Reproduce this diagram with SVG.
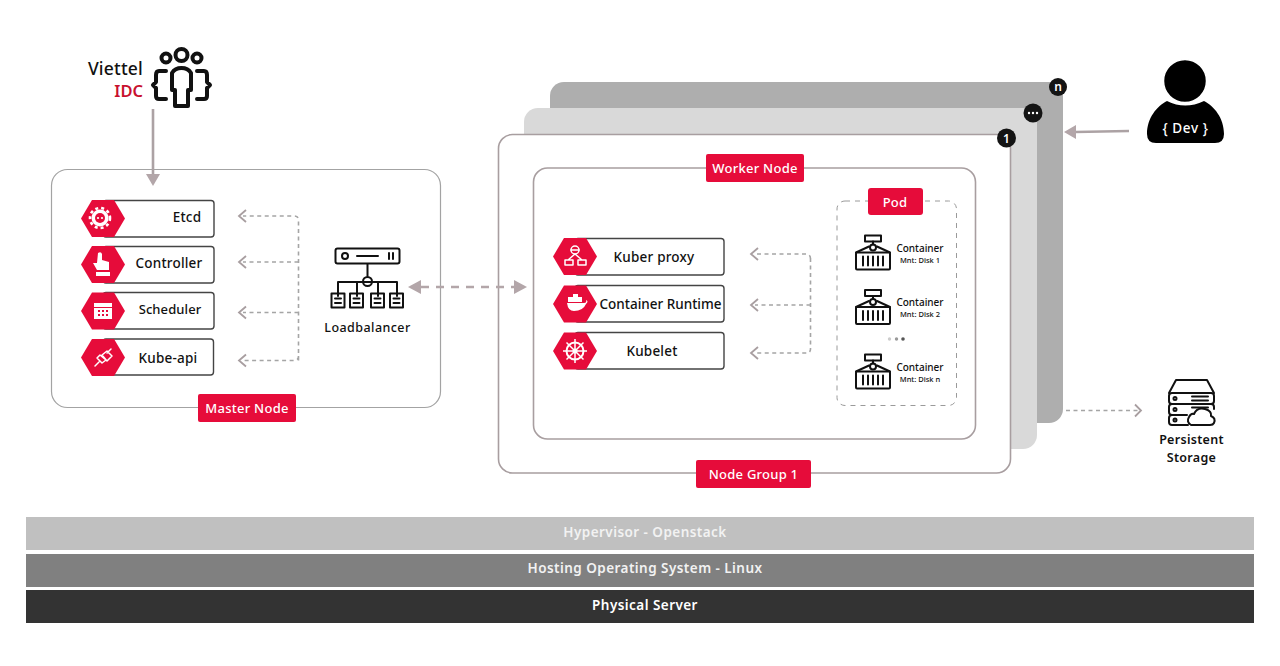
<svg xmlns="http://www.w3.org/2000/svg" width="1280" height="666" viewBox="0 0 1280 666">
<style>
text{font-family:"Noto Sans","Liberation Sans",sans-serif;font-weight:600;fill:#111;text-anchor:middle}
.row{fill:#fff;stroke:#444;stroke-width:1.4}
.hex{fill:#e60c3a}
.tag{fill:#e60c3a}
.tagt{fill:#fff;font-size:13px;font-weight:500;letter-spacing:.25px}
.rowt{font-size:13.5px;font-weight:500;letter-spacing:.2px}
.dash{fill:none;stroke:#a5a5a5;stroke-width:1.6;stroke-dasharray:4 3.5}
.open{fill:none;stroke:#a89ea0;stroke-width:1.8}
.solid{fill:none;stroke:#aca2a4;stroke-width:2.6}
.head{fill:#b3a6a9}
.ic{fill:none;stroke:#111;stroke-width:2;stroke-linejoin:round;stroke-linecap:round}
.wic{fill:none;stroke:#fff;stroke-width:1.5;stroke-linecap:round;stroke-linejoin:round}
.wf{fill:#fff}
.barT{fill:#f2f2f2;font-size:13.5px;letter-spacing:.45px}
.ct{font-size:10px;font-weight:500}
.cs{font-size:7.5px;font-weight:500}
.badge{fill:#141414}
.badget{fill:#fff;font-size:12px;font-weight:600}
</style>
<defs>
<polygon id="hexs" class="hex" points="-22,0 -11,-18.5 11,-18.5 22,0 11,18.5 -11,18.5"/>
<g id="crate">
<rect class="ic" x="10" y="0" width="16" height="6"/>
<path class="ic" d="M18 6V9M1 17L14 11M35 17L22 11"/>
<circle class="ic" cx="18" cy="12" r="3"/>
<rect class="ic" x="1" y="17" width="34" height="17" rx="1"/>
<path class="ic" d="M8 21V30M13 21V30M18 21V30M23 21V30M28 21V30" stroke-width="1.600"/>
</g>
</defs>

<rect width="1280" height="666" fill="#fff"/>

<g id="stack-n"><rect x="550" y="82" width="513" height="341" rx="14" fill="#aeaeae"/></g>
<g id="stack-dots"><rect x="524" y="108" width="513" height="341" rx="14" fill="#d9d9d9"/></g>

<g id="master-node">
<rect x="51.500" y="169.500" width="389" height="238" rx="16" fill="#fff" stroke="#a3a3a3" stroke-width="1.200"/>
<rect class="tag" x="198" y="394" width="98" height="28" rx="2"/>
<text class="tagt" x="247" y="412.500">Master Node</text>
</g>

<g id="node-group-1">
<rect x="498.500" y="134.500" width="512" height="338.500" rx="14" fill="#fff" stroke="#a89ea0" stroke-width="1.600"/>
<rect class="tag" x="696" y="460" width="115" height="28" rx="2"/>
<text class="tagt" x="753.500" y="479">Node Group 1</text>
</g>

<g id="worker-node">
<rect x="533.500" y="168" width="442" height="271" rx="14" fill="#fff" stroke="#a89ea0" stroke-width="1.600"/>
<rect class="tag" x="706" y="154" width="98" height="28" rx="2"/>
<text class="tagt" x="755" y="173">Worker Node</text>
</g>

<g id="connectors">
<path class="dash" d="M298.500 360.500V220Q298.500 216 294 216H243M298.500 262H243M298.500 312.500H243M298.500 356Q298.500 360.500 294 360.500H243"/>
<path class="open" d="M246 210L239 216L246 222M246 256L239 262L246 268M246 306.500L239 312.500L246 318.500M246 354.500L239 360.500L246 366.500"/>
<path class="dash" d="M810.500 258V349Q810.500 353 806 353H755M810.500 305H755M810.500 259Q810.500 254 806 254H755"/>
<path class="open" d="M758 248L751 254L758 260M758 299L751 305L758 311M758 347L751 353L758 359"/>
<path d="M421 287H514" fill="none" stroke="#b3a6a9" stroke-width="2.600" stroke-dasharray="8 7"/>
<polygon class="head" points="408,287 421,280 421,294"/>
<polygon class="head" points="527,287 514,280 514,294"/>
<path class="solid" d="M153 109V175"/>
<polygon class="head" points="153,186 146,174 160,174"/>
<path class="solid" d="M1129 131L1075 132"/>
<polygon class="head" points="1064,132 1076,125 1076,139"/>
<path class="dash" d="M1066 410.500H1138"/>
<path class="open" d="M1135 404.500L1141 410.500L1135 416.500"/>
</g>

<g id="viettel-idc">
<text x="143" y="74.500" style="text-anchor:end;font-size:17.500px;font-weight:500;letter-spacing:.2px">Viettel</text>
<text x="143" y="97" style="text-anchor:end;font-size:16.500px;fill:#c8102e">IDC</text>
<g fill="none" stroke="#111" stroke-width="4" stroke-linejoin="round" stroke-linecap="round">
<circle cx="166" cy="58" r="4.500"/><circle cx="181.500" cy="55" r="6"/><circle cx="197" cy="58" r="4.500"/>
<path d="M172 73Q175 68 181.500 68Q188 68 191 73V90H188V106H175V90H172Z"/>
<path d="M166 71H159Q156 71 156 75V82L153 85L156 88V96Q156 99 159 99H166M197 71H204Q207 71 207 75V82L210 85L207 88V96Q207 99 204 99H197"/>
</g>
</g>

<g id="etcd">
<rect class="row" x="103" y="200.500" width="111" height="36.500" rx="3"/>
<use href="#hexs" x="103" y="218.500"/>
<text class="rowt" x="187" y="221.500">Etcd</text>
<circle cx="100" cy="218" r="8.500" class="wf"/><circle cx="100" cy="218" r="10" fill="none" stroke="#fff" stroke-width="2.600" stroke-dasharray="3 3"/>
<circle cx="100" cy="218" r="5" fill="#e60c3a"/>
<circle cx="98" cy="218" r="1.100" fill="#fff"/><circle cx="102" cy="218" r="1.100" fill="#fff"/>
</g>
<g id="controller">
<rect class="row" x="103" y="246.500" width="111" height="36.500" rx="3"/>
<use href="#hexs" x="103" y="264.500"/>
<text class="rowt" x="169" y="267.500">Controller</text>
<path class="wf" d="M98 253Q101 251 102 254V260L109 262V270H97L93 263L97 263ZM96 272H110V276H96Z"/>
</g>
<g id="scheduler">
<rect class="row" x="103" y="292.500" width="111" height="36.500" rx="3"/>
<use href="#hexs" x="103" y="311"/>
<text class="rowt" x="170" y="313.500" style="font-size:13px;letter-spacing:.1px">Scheduler</text>
<path class="wf" d="M94 303H112V319H94Z"/>
<path d="M94 307.500H112" stroke="#e60c3a" stroke-width="1"/>
<path d="M98 311H100M102 311H104M106 311H108M98 315H100M102 315H104M106 315H108" stroke="#e60c3a" stroke-width="1.800"/>
</g>
<g id="kube-api">
<rect class="row" x="103" y="339" width="110.500" height="36" rx="3"/>
<use href="#hexs" x="103" y="357.500"/>
<text class="rowt" x="168" y="363">Kube-api</text>
<path class="wic" d="M95 366L99 362M107 353L111 349M97 358L102 363L106 360L100 355ZM102 355L107 351L112 356L107 361Z"/>
</g>

<g id="loadbalancer">
<rect class="ic" x="335.500" y="248.500" width="64" height="15" rx="2"/>
<circle class="ic" cx="345" cy="256" r="3"/>
<path class="ic" d="M357 256H378M389 253V259M393 253V259M367.500 264V276M338 296V282H397V296M357 296V282M378 296V282"/>
<circle class="ic" cx="367.500" cy="281.500" r="4.500" fill="#fff"/>
<path class="ic" d="M331.500 293.500h13v14h-13zM350 293.500h13v14h-13zM371 293.500h13v14h-13zM390 293.500h13v14h-13zM335 298.500h6M335 303h6M353.500 298.500h6M353.500 303h6M374.500 298.500h6M374.500 303h6M393.500 298.500h6M393.500 303h6" stroke-width="1.700"/>
<text x="367.500" y="332" style="font-size:12.500px;font-weight:500;letter-spacing:.45px">Loadbalancer</text>
</g>

<g id="kuber-proxy">
<rect class="row" x="575" y="238.500" width="149" height="36.500" rx="3"/>
<use href="#hexs" x="575" y="256.500"/>
<text class="rowt" x="654" y="261.500">Kuber proxy</text>
<circle class="wic" cx="575" cy="250" r="4" stroke-width="1"/>
<path class="wic" stroke-width="1" d="M571 250H579M575 254L568 260M575 254L582 260M565 260h8v5h-8zM578 260h8v5h-8z"/>
</g>
<g id="container-runtime">
<rect class="row" x="575" y="285.500" width="149" height="36.500" rx="3"/>
<use href="#hexs" x="575" y="304"/>
<text class="rowt" x="660.500" y="309" style="letter-spacing:0">Container Runtime</text>
<path class="wf" d="M568 302h14v-5h-4v-3h-5v3h-5zM567 303H584Q587 303 586 300Q589 301 586 304Q583 311 574 311Q568 311 567 303Z"/>
</g>
<g id="kubelet">
<rect class="row" x="575" y="332.500" width="149" height="36.500" rx="3"/>
<use href="#hexs" x="575" y="351"/>
<text class="rowt" x="652" y="356">Kubelet</text>
<circle cx="575" cy="351" r="8.500" fill="none" stroke="#fff" stroke-width="2"/>
<path d="M575 339V363M563 351H587M566.500 342.500L583.500 359.500M583.500 342.500L566.500 359.500" stroke="#fff" stroke-width="1.500"/>
<circle cx="575" cy="351" r="2.500" fill="#fff"/>
</g>

<g id="pod">
<rect x="837" y="201" width="119.500" height="204.500" rx="8" fill="#fff" stroke="#9a9a9a" stroke-width="1" stroke-dasharray="5 5"/>
<rect class="tag" x="868" y="188" width="55" height="27" rx="3"/>
<text class="tagt" x="895" y="207">Pod</text>
<use href="#crate" x="855" y="235.500"/>
<text class="ct" x="920" y="252">Container</text><text class="cs" x="920" y="263">Mnt: Disk 1</text>
<use href="#crate" x="855" y="290"/>
<text class="ct" x="920" y="306">Container</text><text class="cs" x="920" y="317">Mnt: Disk 2</text>
<circle cx="889.500" cy="339" r="1.700" fill="#ccc"/><circle cx="896.500" cy="339" r="1.700" fill="#999"/><circle cx="903" cy="339" r="1.800" fill="#555"/>
<use href="#crate" x="855" y="354.500"/>
<text class="ct" x="920" y="371">Container</text><text class="cs" x="920" y="382">Mnt: Disk n</text>
</g>

<g id="badges">
<circle class="badge" cx="1058" cy="87" r="9"/><text class="badget" x="1058" y="91">n</text>
<circle class="badge" cx="1033" cy="113" r="9.500"/>
<circle cx="1029" cy="113" r="1.200" fill="#fff"/><circle cx="1033" cy="113" r="1.200" fill="#fff"/><circle cx="1037" cy="113" r="1.200" fill="#fff"/>
<circle class="badge" cx="1006.500" cy="138" r="9.500"/><text class="badget" x="1006.500" y="142.500">1</text>
</g>

<g id="dev">
<path d="M1147 134C1147 118 1157 106 1167 101Q1185 110 1204 101C1214 106 1224 118 1224 134Q1224 143 1215 143H1156Q1147 143 1147 134Z" fill="#000"/>
<circle cx="1185" cy="81" r="21.500" fill="#000" stroke="#fff" stroke-width="1.500"/>
<text x="1185.500" y="133" style="fill:#fff;font-size:13.500px;font-weight:500;letter-spacing:.6px">{ Dev }</text>
</g>

<g id="persistent-storage">
<path class="ic" d="M1169 393L1176 380H1207L1214 393"/>
<rect class="ic" x="1169" y="393" width="45" height="11" rx="3"/>
<path class="ic" d="M1187 415H1172Q1169 415 1169 412V407Q1169 404 1172 404M1211 404Q1214 404 1214 407V409M1188 425H1172Q1169 425 1169 422V418Q1169 415 1172 415"/>
<path class="ic" d="M1191 425Q1186 422 1189 417Q1191 413 1194 414Q1197 407 1205 409Q1212 411 1211 416Q1216 418 1214 423Q1213 425 1210 425Z" fill="#fff"/>
<circle class="ic" cx="1175" cy="398.500" r="1.500" stroke-width="1.500"/><circle class="ic" cx="1175" cy="409.500" r="1.500" stroke-width="1.500"/><circle class="ic" cx="1175" cy="420" r="1.500" stroke-width="1.500"/>
<path class="ic" d="M1192 396.500H1208M1192 400.500H1208M1192 407.500H1208" stroke-width="1.500"/>
<text x="1191.500" y="444" style="font-size:12.500px;letter-spacing:.3px">Persistent</text>
<text x="1191.500" y="462" style="font-size:12.500px;letter-spacing:.3px">Storage</text>
</g>

<g id="hypervisor"><rect x="26" y="517" width="1228" height="33" fill="#c0c0c0"/><text class="barT" x="645" y="537">Hypervisor - Openstack</text></g>
<g id="hosting-os"><rect x="26" y="554" width="1228" height="33" fill="#808080"/><text class="barT" x="645" y="573">Hosting Operating System - Linux</text></g>
<g id="physical-server"><rect x="26" y="590" width="1228" height="33" fill="#333"/><text class="barT" x="645" y="610" style="fill:#fff">Physical Server</text></g>
</svg>
